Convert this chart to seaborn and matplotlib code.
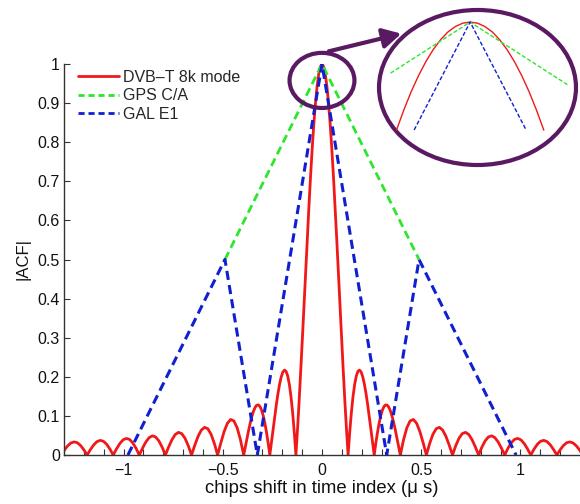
import numpy as np
import pandas as pd
import matplotlib
matplotlib.use("Agg")
import matplotlib.pyplot as plt
import seaborn as sns
from matplotlib.patches import Ellipse, FancyArrowPatch
from matplotlib.lines import Line2D

# ---------------- data ----------------
# DVB-T 8k mode |ACF| for shifts >= 0 (curve is symmetric about 0).
# zero spacing of the lobes (µs)
dvbt_zero_step = 0.1315
# first three lobes, 16 samples per lobe
dvbt_near = [1.0, 0.99359, 0.97450, 0.94316, 0.90032, 0.84693, 0.78421, 0.71359,
             0.63662, 0.55501, 0.47053, 0.38497, 0.30011, 0.21765, 0.13921, 0.06624, 0.0,
             0.05845, 0.10828, 0.14892, 0.18006, 0.20165, 0.21388, 0.21718,
             0.21221, 0.19980, 0.18097, 0.15684, 0.12862, 0.09757, 0.06497, 0.03205, 0.0,
             0.03011, 0.05732, 0.08084, 0.10004, 0.11445, 0.12382, 0.12808,
             0.12732, 0.12183, 0.11203, 0.09848, 0.08185, 0.06288, 0.04237, 0.02114, 0.0]
# remaining lobes, 8 samples per lobe
dvbt_far = [0.0390, 0.0693, 0.0871, 0.0909, 0.0811, 0.0600, 0.0314, 0.0,
            0.0295, 0.0530, 0.0672, 0.0707, 0.0636, 0.0474, 0.0250, 0.0,
            0.0238, 0.0429, 0.0547, 0.0579, 0.0523, 0.0391, 0.0207, 0.0,
            0.0199, 0.0360, 0.0461, 0.0490, 0.0444, 0.0333, 0.0177, 0.0,
            0.0171, 0.0310, 0.0399, 0.0424, 0.0386, 0.0290, 0.0155, 0.0,
            0.0150, 0.0273, 0.0351, 0.0374, 0.0341, 0.0257, 0.0137, 0.0,
            0.0133, 0.0243, 0.0314, 0.0335, 0.0306, 0.0231, 0.0123, 0.0]

# GPS C/A (visible part)
gps_x = [-0.489, 0.0, 0.489]
gps_y = [0.5, 1.0, 0.5]

# Galileo E1 (BOC(1,1)) |ACF|
gal_x = [-0.978, -0.489, -0.326, 0.0, 0.326, 0.489, 0.978]
gal_y = [0.0, 0.5, 0.0, 1.0, 0.0, 0.5, 0.0]

# zoomed inset around the peak
zoom_dvbt_x = [-0.025, -0.0225, -0.020, -0.0175, -0.015, -0.0125, -0.010, -0.0075, -0.005, -0.0025,
               0.0, 0.0025, 0.005, 0.0075, 0.010, 0.0125, 0.015, 0.0175, 0.020, 0.0225, 0.025]
zoom_dvbt_y = [0.9416, 0.9525, 0.9624, 0.9711, 0.9787, 0.9852, 0.9905, 0.9947, 0.9976, 0.9994,
               1.0, 0.9994, 0.9976, 0.9947, 0.9905, 0.9852, 0.9787, 0.9711, 0.9624, 0.9525, 0.9416]
zoom_gps_x = [-0.027, 0.0, 0.033]
zoom_gps_y = [0.9724, 1.0, 0.9662]
zoom_gal_x = [-0.019, 0.0, 0.019]
zoom_gal_y = [0.9417, 1.0, 0.9417]

labels = ["DVB\u2013T 8k mode", "GPS C/A", "GAL E1"]
ytick_vals = [0, 0.1, 0.2, 0.3, 0.4, 0.5, 0.6, 0.7, 0.8, 0.9, 1.0]
ytick_labels = ["0", "0.1", "0.2", "0.3", "0.4", "0.5", "0.6", "0.7", "0.8", "0.9", "1"]
xtick_vals = [-1, -0.5, 0, 0.5, 1]
xtick_labels = ["\u22121", "\u22120.5", "0", "0.5", "1"]

# ---------------- build tables ----------------
near_x = np.arange(len(dvbt_near)) * dvbt_zero_step / 16
far_x = 3 * dvbt_zero_step + np.arange(1, len(dvbt_far) + 1) * dvbt_zero_step / 8
pos_x = np.concatenate([near_x, far_x])
pos_y = np.array(dvbt_near + dvbt_far)
dvbt_x = np.concatenate([-pos_x[::-1][:-1], pos_x])
dvbt_y = np.concatenate([pos_y[::-1][:-1], pos_y])
df_dvbt = pd.DataFrame({"x": dvbt_x, "y": dvbt_y})
df_gps = pd.DataFrame({"x": gps_x, "y": gps_y})
df_gal = pd.DataFrame({"x": gal_x, "y": gal_y})

RED = "#f01818"
GREEN = "#2ee62e"
BLUE = "#1020d0"
PURPLE = "#5a1a62"
AX = "#333333"

sns.set_style("ticks")
plt.rcParams["font.family"] = ["Liberation Sans", "DejaVu Sans"]

fig = plt.figure(figsize=(5.8, 5.04), dpi=100)
ax = fig.add_axes([64 / 580, 49 / 504, 516 / 580, 391 / 504])

dash = (3.0, 1.7)
sns.lineplot(data=df_dvbt, x="x", y="y", ax=ax, color=RED, lw=2.0,
             estimator=None, sort=False)
sns.lineplot(data=df_gps, x="x", y="y", ax=ax, color=GREEN, lw=2.0,
             estimator=None, sort=False, dashes=False, linestyle=(0, dash))
sns.lineplot(data=df_gal, x="x", y="y", ax=ax, color=BLUE, lw=2.2,
             estimator=None, sort=False, dashes=False, linestyle=(0, dash))

ax.set_xlim(-1.3, 1.3)
ax.set_ylim(0, 1)
ax.set_xticks(xtick_vals)
ax.set_xticklabels(xtick_labels)
ax.set_xticks(np.round(np.arange(-1.3, 1.31, 0.1), 2), minor=True)
ax.set_yticks(ytick_vals)
ax.set_yticklabels(ytick_labels)
ax.tick_params(which="both", direction="in", length=4, width=0.8, color=AX,
               labelsize=11.5, labelcolor="#111111")
ax.tick_params(axis="x", which="both", pad=6)
ax.tick_params(axis="y", pad=3)
for s in ["top", "right"]:
    ax.spines[s].set_visible(False)
for s in ["left", "bottom"]:
    ax.spines[s].set_color(AX)
    ax.spines[s].set_linewidth(1.0)

ax.set_xlabel("chips shift in time index (\u03bc s)", fontsize=13.3, labelpad=1, color="#111111")
ax.set_ylabel("|ACF|", fontsize=12, labelpad=5, color="#111111")

handles = [Line2D([], [], color=RED, lw=2.0),
           Line2D([], [], color=GREEN, lw=2.0, linestyle=(0, (2.2, 1.4))),
           Line2D([], [], color=BLUE, lw=2.0, linestyle=(0, (2.2, 1.4)))]
ax.legend(handles, labels, loc="upper left", bbox_to_anchor=(0.027, 0.985),
          frameon=False, fontsize=11.5, handlelength=2.6, handletextpad=0.2,
          labelspacing=0.22, borderpad=0, borderaxespad=0)

# small circle around the peak
ax.add_patch(Ellipse((0.0, 0.958), 0.327, 0.141, fill=False, lw=3.0,
                     ec=PURPLE, clip_on=False, zorder=5))

# inset
ax_in = fig.add_axes([377 / 580, 1 - 167 / 504, 201 / 580, 159 / 504])
ax_in.set_axis_off()
ax_in.set_xlim(-0.0316, 0.0366)
ax_in.set_ylim(0.9217, 1.0076)
sns.lineplot(x=zoom_dvbt_x, y=zoom_dvbt_y, ax=ax_in, color=RED, lw=1.0,
             estimator=None, sort=False)
sns.lineplot(x=zoom_gps_x, y=zoom_gps_y, ax=ax_in, color=GREEN, lw=1.0,
             estimator=None, sort=False, dashes=False, linestyle=(0, (3, 1.5)))
sns.lineplot(x=zoom_gal_x, y=zoom_gal_y, ax=ax_in, color=BLUE, lw=1.0,
             estimator=None, sort=False, dashes=False, linestyle=(0, (3, 1.5)))
ax_in.add_patch(Ellipse((0.5, 0.5), 0.98, 0.975, transform=ax_in.transAxes,
                        fill=False, lw=3.0, ec=PURPLE, clip_on=False))

# arrow from small circle to inset
fig.patches.append(FancyArrowPatch(
    (326 / 580, 1 - 52 / 504), (404 / 580, 1 - 33 / 504),
    transform=fig.transFigure, arrowstyle="-|>,head_length=0.55,head_width=0.3",
    mutation_scale=20, lw=3.0, color=PURPLE))

fig.savefig("out.png", dpi=100)
